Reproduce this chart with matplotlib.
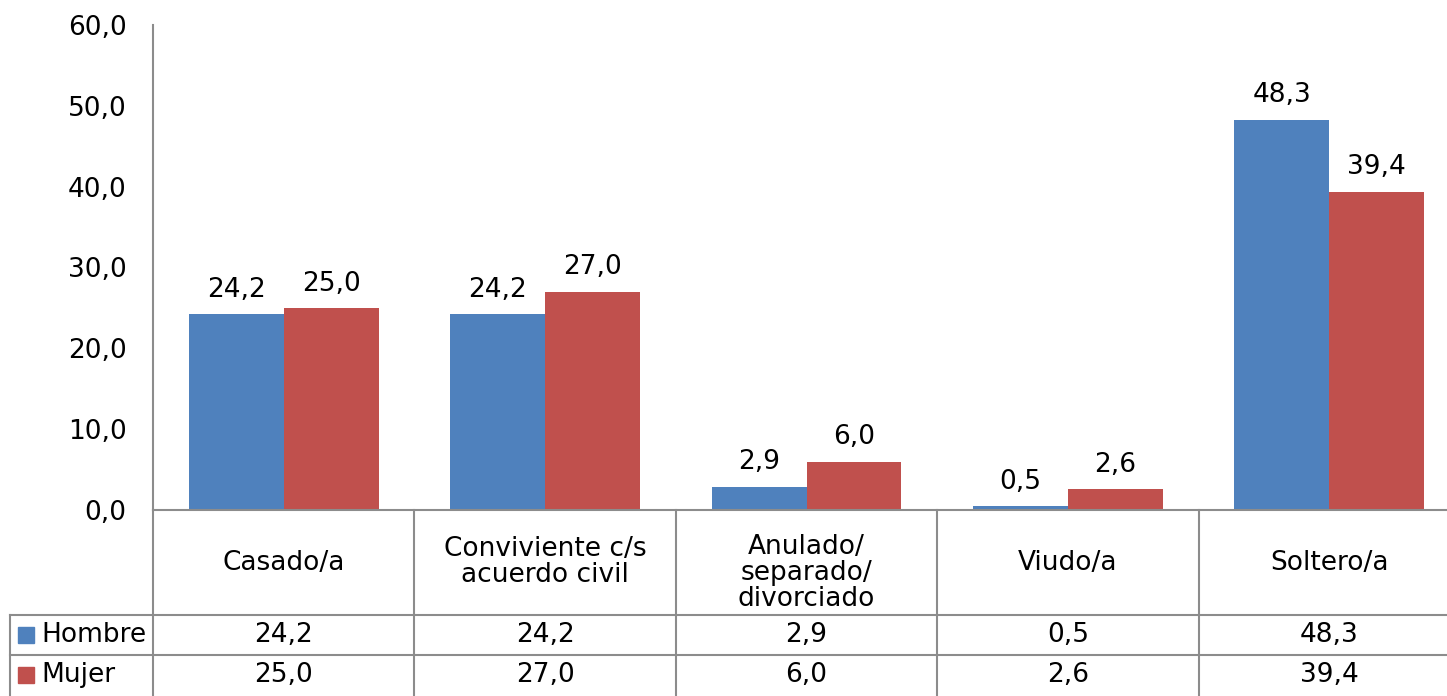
import matplotlib
matplotlib.use("Agg")
import matplotlib.pyplot as plt
import numpy as np

plt.rcParams.update({"font.family": "DejaVu Sans", "font.size": 19})

categorias = ["Casado/a", "Conviviente c/s\nacuerdo civil",
              "Anulado/\nseparado/\ndivorciado", "Viudo/a", "Soltero/a"]
series = ["Hombre", "Mujer"]
hombre = [24.2, 24.2, 2.9, 0.5, 48.3]
mujer = [25.0, 27.0, 6.0, 2.6, 39.4]
colores = ["#4F81BD", "#C0504D"]
yticks = [0, 10, 20, 30, 40, 50, 60]

W, H = 1447, 696
fig = plt.figure(figsize=(W / 100, H / 100), dpi=100)
GRIS = "#8c8c8c"

# área de gráfico (en píxeles: x 153..1460, y 25..510)
x0, x1, ytop, ybot = 153, 1460, 25, 510
ax = fig.add_axes([x0 / W, (H - ybot) / H, (x1 - x0) / W, (ybot - ytop) / H])
x = np.arange(len(categorias))
ancho = 0.363
for k, (vals, col) in enumerate(zip([hombre, mujer], colores)):
    pos = x + (k - 0.5) * ancho
    ax.bar(pos, vals, width=ancho, color=col, zorder=2)
    for p, v in zip(pos, vals):
        ax.text(p, v + 1.4, f"{v:.1f}".replace(".", ","), ha="center", va="bottom")

ax.set_xlim(-0.5, len(categorias) - 0.5)
ax.set_ylim(0, 60)
ax.set_yticks(yticks)
ax.set_yticklabels([f"{t:.1f}".replace(".", ",") for t in yticks])
ax.tick_params(axis="y", length=0, pad=19)
ax.set_xticks([])
for s in ["top", "right"]:
    ax.spines[s].set_visible(False)
for s in ["left", "bottom"]:
    ax.spines[s].set_color(GRIS)
    ax.spines[s].set_linewidth(1.5)

# tabla de datos debajo
tb = fig.add_axes([x0 / W, 0, (x1 - x0) / W, (H - ybot) / H])
tb.set_xlim(-0.5, len(categorias) - 0.5)
tb.set_ylim(H - ybot, 0)
tb.axis("off")
px = (len(categorias)) / (x1 - x0)  # unidades de datos por píxel
izq = -0.5 - (x0 - 10) * px
r1, r2 = 105, 145
kw = dict(color=GRIS, lw=1.5, clip_on=False)
tb.plot([-0.5, -0.5], [0, H - ybot], **kw)
for i in range(1, len(categorias)):
    tb.plot([i - 0.5, i - 0.5], [0, H - ybot], **kw)
tb.plot([izq, izq], [r1, H - ybot], **kw)
tb.plot([izq, len(categorias) - 0.5], [r1, r1], **kw)
tb.plot([izq, len(categorias) - 0.5], [r2, r2], **kw)

for i, c in enumerate(categorias):
    if c.count("\n") >= 2:
        # como en Excel: la etiqueta de 3 líneas empieza arriba
        tb.text(i, 24, c, ha="center", va="top", linespacing=1.0)
    else:
        tb.text(i, r1 / 2, c, ha="center", va="center", linespacing=1.0)
for fila, (nombre, vals, col) in enumerate(zip(series, [hombre, mujer], colores)):
    yc = (r1 + r2) / 2 + fila * (r2 - r1)
    tb.plot([izq + 16 * px], [yc], marker="s", ms=11, color=col, clip_on=False)
    tb.text(izq + 31 * px, yc, nombre, ha="left", va="center")
    for i, v in enumerate(vals):
        tb.text(i, yc, f"{v:.1f}".replace(".", ","), ha="center", va="center")

fig.savefig("out.png", dpi=100)
